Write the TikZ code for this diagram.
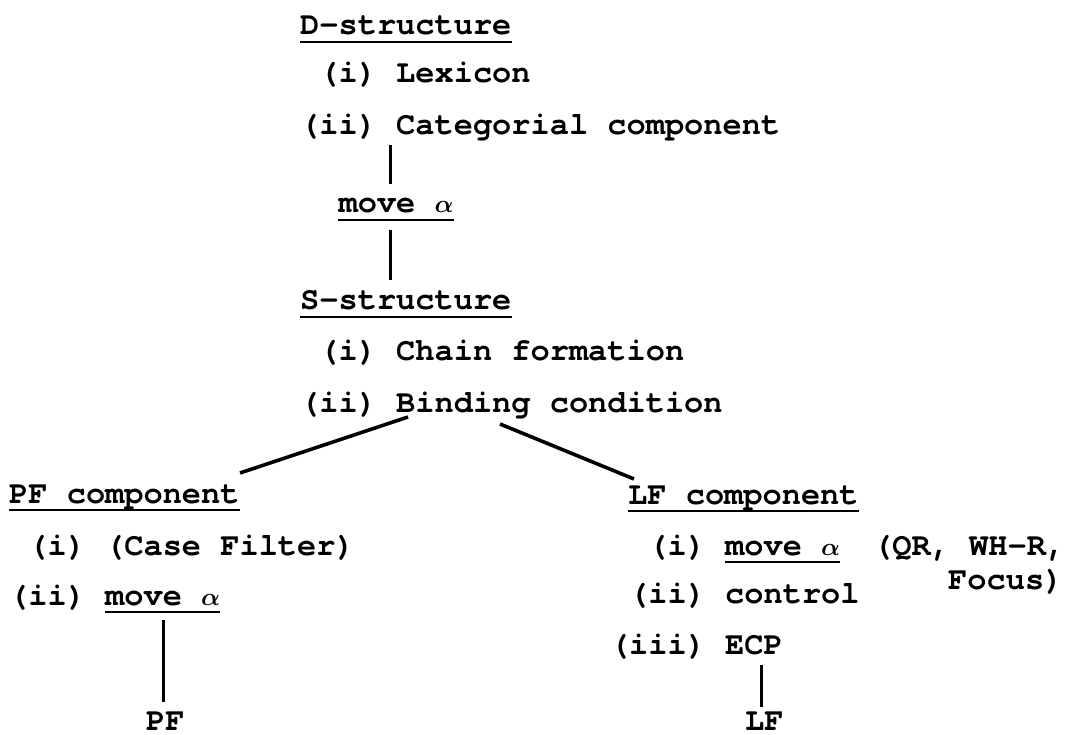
\documentclass[tikz,border=0pt]{standalone}
\usepackage{bm}
\usepackage{fontspec}
\newfontfamily\tw{TeX Gyre Cursor}
\newcommand{\alp}{\ensuremath{\bm{\alpha}}}
\begin{document}
\begin{tikzpicture}[x=1pt,y=-1pt,
  txt/.style={anchor=base west,inner sep=0pt,font=\tw\bfseries\fontsize{32}{38}\selectfont},
  vline/.style={line width=3pt},
  dline/.style={line width=3.6pt},
  uline/.style={line width=2pt}]
\useasboundingbox (0,0) rectangle (1066,735);
% top block
\node[txt] (ds) at (300,35) {D-structure};
\node[txt] (lex) at (319.2,83) {(i) Lexicon};
\node[txt] (cat) at (300,135) {(ii) Categorial component};
\node[txt] (mv1) at (338.4,213) {move \alp};
\node[txt] (ss) at (300,310) {S-structure};
\node[txt] (chain) at (319.2,360) {(i) Chain formation};
\node[txt] (bind) at (300,412) {(ii) Binding condition};
% PF block
\node[txt] (pfc) at (9,503) {PF component};
\node[txt] (cf) at (28.2,555) {(i) (Case Filter)};
\node[txt] (pfii) at (9,605) {(ii)};
\node[txt] (pfmv) at (105,605) {move \alp};
\node[txt] (pf) at (146,730) {PF};
% LF block
\node[txt] (lfc) at (628,504) {LF component};
\node[txt] (lfi) at (648.2,555) {(i)};
\node[txt] (lfmv) at (725,555) {move \alp};
\node[txt] (qr) at (873,555) {(QR, WH-R,};
\node[txt] (focus) at (948,589) {Focus)};
\node[txt] (ctrl) at (629,603) {(ii) control};
\node[txt] (ecp) at (609.8,654) {(iii) ECP};
\node[txt] (lf) at (745,730) {LF};
% underlines
\foreach \n in {ds,mv1,ss,pfc,pfmv,lfc,lfmv}
  \draw[uline] ([yshift=-7pt]\n.base west) -- ([yshift=-7pt]\n.base east);
% connectors
\draw[vline] ([xshift=90pt,yshift=-10pt]cat.base west) -- ([xshift=51.6pt,yshift=29pt]mv1.base west);
\draw[vline] ([xshift=51.6pt,yshift=-17pt]mv1.base west) -- ([xshift=90pt,yshift=30pt]ss.base west);
\draw[dline] ([xshift=108pt,yshift=-5pt]bind.base west) -- ([xshift=231pt,yshift=30pt]pfc.base west);
\draw[dline] ([xshift=200pt,yshift=-12pt]bind.base west) -- ([xshift=6pt,yshift=25pt]lfc.base west);
\draw[vline] ([xshift=58pt,yshift=-15pt]pfmv.base west) -- ([xshift=17pt,yshift=28pt]pf.base west);
\draw[vline] ([xshift=151.2pt,yshift=-11pt]ecp.base west) -- ([xshift=16pt,yshift=23pt]lf.base west);
\end{tikzpicture}
\end{document}
